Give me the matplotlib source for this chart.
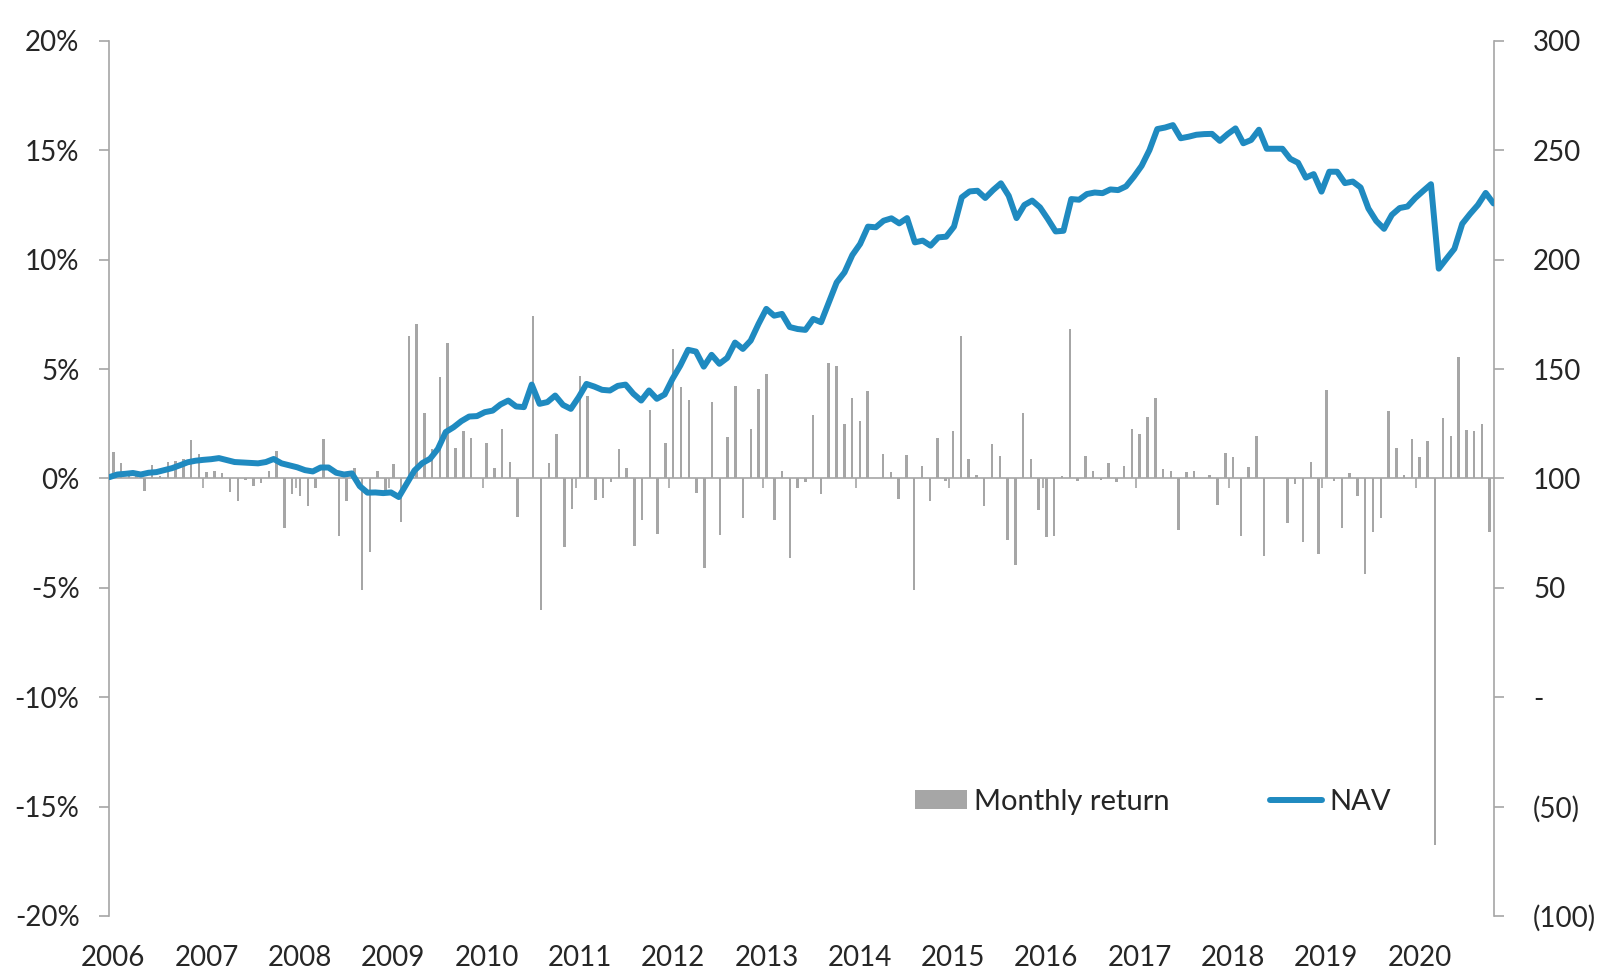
import numpy as np
import matplotlib
matplotlib.use("Agg")
import matplotlib.pyplot as plt
from matplotlib.patches import Patch
from matplotlib.lines import Line2D

plt.rcParams['font.family'] = ['Lato', 'DejaVu Sans']

# monthly returns in %, Jan 2006 .. Oct 2020
monthly_return = [
    1.20, 0.70, 0.20, 0.15, -0.59, 0.62, 0.10, 0.74, 0.80, 0.90, 1.76, 1.14,
    0.29, 0.33, 0.26, -0.64, -1.03, -0.05, -0.33, -0.20, 0.36, 1.26, -2.25, -0.70,
    -0.82, -1.28, -0.43, 1.79, 0.02, -2.61, -1.03, 0.47, -5.08, -3.36, 0.33, -0.55,
    0.64, -2.00, 6.49, 7.07, 3.01, 1.35, 4.62, 6.20, 1.40, 2.16, 1.85, 0.03,
    1.60, 0.49, 2.28, 0.73, -1.76, 0.02, 7.42, -6.02, 0.71, 2.04, -3.13, -1.40,
    4.68, 3.75, -0.97, -0.90, -0.15, 1.35, 0.47, -3.09, -1.88, 3.12, -2.52, 1.63,
    5.90, 4.19, 3.60, -0.67, -4.10, 3.48, -2.57, 1.90, 4.21, -1.82, 2.25, 4.09,
    4.79, -1.88, 0.35, -3.62, -0.44, -0.17, 2.89, -0.70, 5.27, 5.15, 2.51, 3.69,
    2.61, 4.00, 0.02, 1.12, 0.29, -0.96, 1.09, -5.11, 0.55, -1.05, 1.87, -0.12,
    2.17, 6.52, 0.90, 0.15, -1.28, 1.57, 1.03, -2.83, -3.97, 3.01, 0.90, -1.43,
    -2.67, -2.64, 0.12, 6.85, -0.11, 1.03, 0.36, -0.05, 0.70, -0.17, 0.58, 2.25,
    2.04, 2.83, 3.69, 0.43, 0.36, -2.34, 0.29, 0.35, 0.00, 0.15, -1.23, 1.16,
    0.99, -2.61, 0.53, 1.93, -3.55, 0.00, 0.00, -2.05, -0.27, -2.91, 0.73, -3.45,
    4.05, -0.11, -2.27, 0.25, -0.82, -4.39, -2.43, -1.82, 3.09, 1.39, 0.18, 1.82,
    0.98, 1.73, -16.75, 2.75, 1.93, 5.55, 2.23, 2.18, 2.50, -2.45,
]

nav = [
    100.6, 101.8, 102.1, 102.5, 101.8, 102.6, 102.9, 103.8, 104.7, 106.0, 107.4, 108.1,
    108.5, 108.8, 109.3, 108.4, 107.5, 107.3, 107.1, 106.9, 107.5, 108.9, 106.9, 106.0,
    105.1, 103.8, 103.2, 105.0, 105.0, 102.6, 101.8, 102.3, 96.5, 93.5, 93.6, 93.3,
    93.6, 91.5, 97.6, 103.6, 107.0, 109.0, 113.5, 121.2, 123.4, 126.2, 128.3, 128.5,
    130.3, 131.0, 133.8, 135.6, 132.9, 132.6, 142.9, 134.1, 134.9, 137.9, 133.6, 131.8,
    137.1, 143.2, 142.0, 140.5, 140.2, 142.3, 142.9, 138.7, 135.6, 140.2, 136.4, 138.4,
    145.5, 151.6, 158.8, 158.0, 151.1, 156.5, 152.4, 155.1, 162.1, 159.2, 163.0, 170.6,
    177.5, 174.4, 175.2, 169.2, 168.3, 167.9, 172.9, 171.4, 180.5, 189.6, 194.2, 202.1,
    207.2, 215.1, 214.8, 217.8, 218.9, 216.6, 219.0, 207.9, 208.7, 206.4, 210.2, 210.5,
    215.1, 228.5, 231.2, 231.5, 228.2, 231.8, 234.9, 229.2, 219.0, 225.0, 227.0, 223.9,
    218.6, 212.9, 213.2, 227.7, 227.4, 230.0, 230.7, 230.4, 232.1, 231.8, 233.5, 237.9,
    242.9, 250.1, 259.7, 260.4, 261.5, 255.5, 256.2, 257.1, 257.4, 257.5, 254.3, 257.4,
    260.0, 253.2, 254.7, 259.4, 250.7, 250.7, 250.7, 246.1, 244.3, 237.5, 239.1, 231.1,
    240.2, 240.2, 235.0, 235.7, 233.0, 223.4, 217.7, 214.1, 220.5, 223.6, 224.3, 228.2,
    231.4, 234.5, 195.9, 200.5, 205.0, 216.4, 220.9, 225.0, 230.5, 225.7,
]

years = [str(y) for y in range(2006, 2021)]
left_ticks = [-20, -15, -10, -5, 0, 5, 10, 15, 20]
right_ticks = [-100, -50, 0, 50, 100, 150, 200, 250, 300]
right_labels = ['(100)', '(50)', '-', '50', '100', '150', '200', '250', '300']

bar_col = '#A6A6A6'
line_col = '#1F8AC0'
axis_col = '#A6A6A6'
txt_col = '#262626'

n = len(monthly_return)
xb = np.arange(n) + 0.5
xl = np.linspace(0, n, len(nav))

fig = plt.figure(figsize=(16.03, 9.69), dpi=100)
ax = fig.add_subplot(111)
fig.subplots_adjust(left=0.0683, right=0.9317, bottom=0.0547, top=0.9578)

ax.bar(xb, monthly_return, width=0.32, color=bar_col, zorder=2)
ax.set_xlim(0, n)
ax.set_ylim(-20, 20)
ax.set_yticks(left_ticks)
ax.set_yticklabels([f'{v}%' for v in left_ticks])

for s in ['top', 'right']:
    ax.spines[s].set_visible(False)
ax.spines['left'].set_color(axis_col)
ax.spines['left'].set_linewidth(1.2)
ax.spines['bottom'].set_position(('data', 0))
ax.spines['bottom'].set_color(axis_col)
ax.spines['bottom'].set_linewidth(1.2)
ax.spines['bottom'].set_zorder(1)

ax.set_xticks(np.arange(12, n, 12))
ax.tick_params(axis='x', direction='out', length=7.5, width=1.2, color=axis_col,
               labelbottom=False)
ax.tick_params(axis='y', direction='out', length=7.5, width=1.2, color=axis_col,
               labelsize=20, labelcolor=txt_col, pad=14)

sec = ax.secondary_xaxis(0)
sec.set_xticks(np.arange(0, n, 12) + 0.5)
sec.set_xticklabels(years)
sec.spines['bottom'].set_visible(False)
sec.tick_params(length=0, labelsize=20, labelcolor=txt_col, pad=21)

ax2 = ax.twinx()
ax2.plot(xl, nav, color=line_col, lw=4.3, solid_joinstyle='round',
         solid_capstyle='round', zorder=3)
ax2.set_ylim(-100, 300)
ax2.set_yticks(right_ticks)
ax2.set_yticklabels(right_labels)
for s in ['top', 'left', 'bottom']:
    ax2.spines[s].set_visible(False)
ax2.spines['right'].set_color(axis_col)
ax2.spines['right'].set_linewidth(1.2)
ax2.tick_params(axis='y', direction='out', length=7.5, width=1.2, color=axis_col,
                labelsize=20, labelcolor=txt_col, pad=21)
ax2.set_xlim(0, n)

handles = [Patch(facecolor=bar_col, edgecolor='none'),
           Line2D([], [], color=line_col, lw=4.3, solid_capstyle='round')]
fig.legend(handles, ['Monthly return', 'NAV'], loc='center left',
           bbox_to_anchor=(915 / 1603, 1 - 802 / 969), ncol=2, frameon=False,
           fontsize=21, handlelength=1.78, handleheight=0.62, handletextpad=0.25,
           columnspacing=3.45, borderpad=0, borderaxespad=0, labelcolor=txt_col)

fig.savefig('out.png', dpi=100)
